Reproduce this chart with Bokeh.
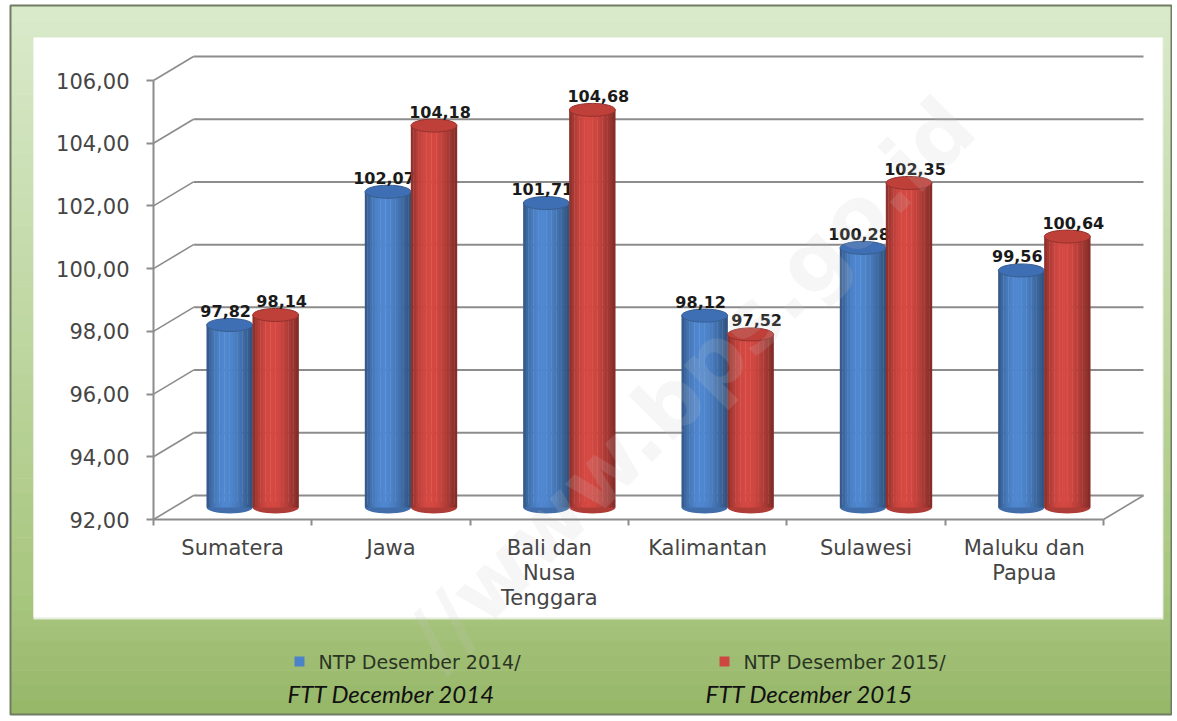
import numpy as np
from bokeh.plotting import figure
from bokeh.models import Range1d, LinearAxis, FixedTicker
from bokeh.core.properties import value
from bokeh.embed import file_html
from bokeh.resources import INLINE

# ---------------- data ----------------
categories = ["Sumatera", "Jawa", "Bali dan\nNusa\nTenggara", "Kalimantan", "Sulawesi", "Maluku dan\nPapua"]
ntp_2014 = [97.82, 102.07, 101.71, 98.12, 100.28, 99.56]
ntp_2015 = [98.14, 104.18, 104.68, 97.52, 102.35, 100.64]
y_ticks = [92, 94, 96, 98, 100, 102, 104, 106]
y_tick_labels = ["92,00", "94,00", "96,00", "98,00", "100,00", "102,00", "104,00", "106,00"]
legend_id = ["NTP Desember 2014/", "NTP Desember 2015/"]
legend_en = ["FTT December 2014", "FTT December 2015"]
watermark = "//www.bps.go.id"
series_colors = [(76, 130, 200), (206, 70, 64)]
top_colors = ["#3e6fb4", "#bf3f39"]

# ---------------- layout constants (picture pixels) ----------------
W, H = 1172, 716
LEFT, RIGHT, TOP, BOTTOM = 0, W, 0, H
FX0, FX1 = 153, 1103          # front floor, x
FY_LO, FY_HI = 519, 80        # front y of 92 and 106
DEPTH_X, DEPTH_Y = 40, 24     # 3d depth shift
BAR_PX = 46
YMIN, YMAX = y_ticks[0], y_ticks[-1]
n_cat = len(categories)


def rng(v0, p0, v1, p1, lo, hi):
    k = (v1 - v0) / (p1 - p0)
    return Range1d(start=v0 + (lo - p0) * k, end=v0 + (hi - p0) * k)


def hexc(c):
    return "#%02x%02x%02x" % tuple(int(round(v)) for v in np.clip(c, 0, 255))


p = figure(width=W, height=H, output_backend="svg", toolbar_location=None,
           title=None, x_range=Range1d(LEFT, RIGHT), y_range=Range1d(BOTTOM, TOP),
           min_border=0, min_border_left=0, min_border_right=0,
           min_border_top=0, min_border_bottom=0)
p.xaxis.visible = False
p.yaxis.visible = False
p.xgrid.visible = False
p.ygrid.visible = False
p.outline_line_color = None
p.background_fill_color = "white"
p.border_fill_color = "white"

p.extra_x_ranges = {
    "fx": rng(0, FX0, n_cat, FX1, LEFT, RIGHT),
    "mx": rng(0, FX0 + DEPTH_X / 2, n_cat, FX1 + DEPTH_X / 2, LEFT, RIGHT),
    "bx": rng(0, FX0 + DEPTH_X, n_cat, FX1 + DEPTH_X, LEFT, RIGHT),
}
p.extra_y_ranges = {
    "vf": rng(YMIN, FY_LO, YMAX, FY_HI, BOTTOM, TOP),
    "vm": rng(YMIN, FY_LO - DEPTH_Y / 2, YMAX, FY_HI - DEPTH_Y / 2, BOTTOM, TOP),
    "vb": rng(YMIN, FY_LO - DEPTH_Y, YMAX, FY_HI - DEPTH_Y, BOTTOM, TOP),
}

# ---------------- background: green frame + white panel ----------------
top_c = np.array([218, 234, 204])
mid_c = np.array([168, 198, 126])
bot_c = np.array([150, 182, 104])
nb = 48
F_TOP, F_BOT, F_L, F_R = 5, 714, 10, 1171
edges = np.linspace(F_TOP, F_BOT, nb + 1)
cols = []
for i in range(nb):
    t = (edges[i] + edges[i + 1]) / 2
    if t < 600:
        f = (t - F_TOP) / (600 - F_TOP)
        c = top_c + (mid_c - top_c) * f
    else:
        f = (t - 600) / (F_BOT - 600)
        c = mid_c + (bot_c - mid_c) * f
    cols.append(hexc(c))
p.quad(left=F_L, right=F_R, top=edges[:-1], bottom=edges[1:] + 0.6,
       fill_color=cols, line_color=None)
p.quad(left=F_L, right=F_R, top=F_TOP, bottom=F_BOT, fill_color=None,
       line_color="#6f7d63", line_width=2)
p.quad(left=33, right=1163, top=37, bottom=619, fill_color="#e4eddb", line_color=None)
p.quad(left=33, right=1162, top=37, bottom=617, fill_color="white", line_color=None)

# ---------------- back wall gridlines + connectors ----------------
grid_col = "#8c8c8c"
p.segment(x0=0, x1=n_cat, y0=y_ticks, y1=y_ticks, x_range_name="bx", y_range_name="vb",
          line_color=grid_col, line_width=2)
dx_u = DEPTH_X / ((FX1 - FX0) / n_cat)
dv_u = DEPTH_Y / ((FY_LO - FY_HI) / (YMAX - YMIN))
p.segment(x0=0, x1=dx_u, y0=y_ticks, y1=[t + dv_u for t in y_ticks],
          x_range_name="fx", y_range_name="vf", line_color=grid_col, line_width=1.6)
p.segment(x0=[n_cat], x1=[n_cat + dx_u], y0=[YMIN], y1=[YMIN + dv_u],
          x_range_name="fx", y_range_name="vf", line_color=grid_col, line_width=1.6)

# ---------------- cylinders ----------------
bw = BAR_PX / ((FX1 - FX0) / n_cat)
idx = np.arange(n_cat)
ns = 18
tk = (np.arange(ns) + 0.5) / ns
shade = 0.62 + 0.42 * np.sin(np.pi * tk ** 0.8)
for s, vals in enumerate([ntp_2014, ntp_2015]):
    xs = idx + 0.5 + (s - 0.5) * bw
    base = np.array(series_colors[s], dtype=float)
    edge_col = hexc(base * 0.72)
    p.ellipse(x=xs, y=YMIN, width=bw, height=12, height_units="screen",
              x_range_name="mx", y_range_name="vm", fill_color=hexc(base * 0.85),
              line_color=None)
    for k, f in enumerate(shade):
        off = -bw / 2 + (k + 0.5) * bw / ns
        p.vbar(x=xs + off, width=bw / ns * 1.15, top=vals, bottom=YMIN,
               x_range_name="mx", y_range_name="vm", fill_color=hexc(base * f),
               line_color=None)
    p.ellipse(x=xs, y=vals, width=bw, height=13, height_units="screen",
              x_range_name="mx", y_range_name="vm", fill_color=top_colors[s],
              line_color=edge_col, line_width=1)
    labels = [("%.2f" % v).replace(".", ",") for v in vals]
    p.text(x=xs, y=vals, text=labels, x_range_name="mx", y_range_name="vm",
           x_offset=-4 if s == 0 else 6, y_offset=-8,
           text_align="center", text_baseline="bottom",
           text_font=value("DejaVu Sans"), text_font_style="bold",
           text_font_size="16px", text_color="#1a1a1a")

# ---------------- axes ----------------
yaxis = LinearAxis(y_range_name="vf", ticker=FixedTicker(ticks=y_ticks),
                   major_label_overrides=dict(zip(y_ticks, y_tick_labels)),
                   fixed_location=FX0, bounds=(YMIN, YMAX))
yaxis.axis_line_color = grid_col
yaxis.axis_line_width = 2
yaxis.major_tick_line_color = grid_col
yaxis.major_tick_line_width = 2
yaxis.major_tick_out = 7
yaxis.major_tick_in = 0
yaxis.minor_tick_out = 0
yaxis.minor_tick_in = 0
yaxis.major_label_standoff = 17
yaxis.major_label_text_font = "DejaVu Sans"
yaxis.major_label_text_font_size = "21px"
yaxis.major_label_text_color = "#454545"
p.add_layout(yaxis, "left")

xaxis_ticks = LinearAxis(x_range_name="fx", ticker=FixedTicker(ticks=list(range(n_cat + 1))),
                         major_label_overrides={i: "" for i in range(n_cat + 1)},
                         fixed_location=FY_LO, bounds=(0, n_cat))
xaxis_ticks.axis_line_color = grid_col
xaxis_ticks.axis_line_width = 2
xaxis_ticks.major_tick_line_color = grid_col
xaxis_ticks.major_tick_line_width = 2
xaxis_ticks.major_tick_out = 6
xaxis_ticks.major_tick_in = 0
xaxis_ticks.minor_tick_out = 0
xaxis_ticks.minor_tick_in = 0
p.add_layout(xaxis_ticks, "below")

cat_centers = [i + 0.5 for i in range(n_cat)]
xaxis = LinearAxis(x_range_name="fx", ticker=FixedTicker(ticks=cat_centers),
                   major_label_overrides=dict(zip(cat_centers, categories)),
                   fixed_location=FY_LO)
xaxis.axis_line_color = None
xaxis.major_tick_line_color = None
xaxis.minor_tick_line_color = None
xaxis.major_tick_out = 0
xaxis.major_label_standoff = 16
xaxis.major_label_text_font = "DejaVu Sans"
xaxis.major_label_text_font_size = "21px"
xaxis.major_label_text_color = "#454545"
xaxis.major_label_text_line_height = 1.05
p.add_layout(xaxis, "below")

# ---------------- watermark ----------------
p.text(x=[690], y=[382], text=[watermark], angle=45, angle_units="deg",
       text_align="center", text_baseline="middle",
       text_font=value("DejaVu Sans"), text_font_style="bold", text_font_size="84px",
       text_color="#c4c4c4", text_alpha=0.16)

# ---------------- legend ----------------
leg_x = [299, 724]
leg_col = [hexc(c) for c in series_colors]
p.scatter(x=leg_x, y=[661, 661], marker="square", size=10, fill_color=leg_col, line_color=None)
p.text(x=[x + 19 for x in leg_x], y=[661, 661], text=legend_id, text_baseline="middle",
       text_font=value("DejaVu Sans"), text_font_size="19px", text_color="#2a3524")
p.text(x=[287, 705], y=[693, 693], text=legend_en, text_baseline="middle",
       text_font=value("Lato"), text_font_style="italic", text_font_size="24px",
       text_color="#111111")

open("out.html", "w").write(file_html(p, INLINE))
